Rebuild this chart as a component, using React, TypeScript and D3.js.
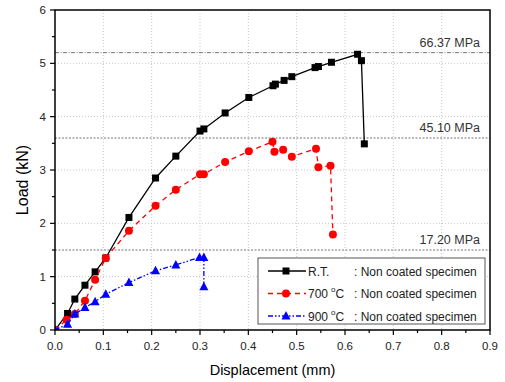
import React from 'react';
import * as d3 from 'd3';

// Load vs displacement for the three test temperatures
const rtX = [0, 0.026, 0.041, 0.062, 0.083, 0.105, 0.153, 0.208, 0.25, 0.3, 0.308, 0.352, 0.401, 0.451, 0.456, 0.474, 0.49, 0.538, 0.545, 0.572, 0.626, 0.634, 0.64];
const rtY = [0, 0.31, 0.58, 0.84, 1.09, 1.35, 2.11, 2.85, 3.26, 3.73, 3.77, 4.07, 4.36, 4.58, 4.61, 4.68, 4.75, 4.92, 4.94, 5.02, 5.17, 5.05, 3.49];

const c700X = [0, 0.024, 0.041, 0.062, 0.083, 0.105, 0.153, 0.208, 0.25, 0.3, 0.308, 0.352, 0.401, 0.45, 0.454, 0.472, 0.49, 0.54, 0.545, 0.57, 0.575];
const c700Y = [0, 0.19, 0.3, 0.55, 0.94, 1.35, 1.86, 2.33, 2.63, 2.92, 2.92, 3.15, 3.35, 3.53, 3.34, 3.38, 3.25, 3.4, 3.05, 3.08, 1.79];

const c900X = [0, 0.026, 0.041, 0.062, 0.083, 0.105, 0.153, 0.208, 0.25, 0.299, 0.308, 0.308];
const c900Y = [0, 0.11, 0.3, 0.42, 0.53, 0.67, 0.89, 1.11, 1.22, 1.36, 1.36, 0.81];

const refLoads = [5.2, 3.6, 1.5];
const refLabels = ['66.37 MPa', '45.10 MPa', '17.20 MPa'];

const xTicks = [0, 0.1, 0.2, 0.3, 0.4, 0.5, 0.6, 0.7, 0.8, 0.9];
const yTicks = [0, 1, 2, 3, 4, 5, 6];

const legendLabels = ['R.T.', '700', '900'];

const FONT = 'Liberation Sans, Arial, sans-serif';

const margin = { top: 10, right: 15, bottom: 52, left: 55 };
const width = 505;
const height = 382;
const plotW = width - margin.left - margin.right;
const plotH = height - margin.top - margin.bottom;

type Series = { xs: number[]; ys: number[]; color: string; dash: string; marker: 'square' | 'circle' | 'triangle' };

const series: Series[] = [
  { xs: rtX, ys: rtY, color: '#000', dash: 'none', marker: 'square' },
  { xs: c700X, ys: c700Y, color: '#ff0000', dash: '5,4', marker: 'circle' },
  { xs: c900X, ys: c900Y, color: '#0000ff', dash: '5,2,1.5,2,1.5,2', marker: 'triangle' },
];

function Marker({ kind, x, y, color }: { kind: string; x: number; y: number; color: string }) {
  if (kind === 'square') return <rect x={x - 3.5} y={y - 3.5} width={7} height={7} fill={color} />;
  if (kind === 'circle') return <circle cx={x} cy={y} r={4} fill={color} />;
  return <path d={`M${x},${y - 5}L${x + 4.5},${y + 3.5}L${x - 4.5},${y + 3.5}Z`} fill={color} />;
}

export default function App() {
  const x = d3.scaleLinear().domain([0, 0.9]).range([0, plotW]);
  const y = d3.scaleLinear().domain([0, 6]).range([plotH, 0]);
  const line = d3.line<[number, number]>().x((d) => x(d[0])).y((d) => y(d[1]));
  const xMinor = d3.range(0, 0.91, 0.05);
  const yMinor = d3.range(0, 6.01, 0.5);

  return (
    <svg width={width} height={height} style={{ position: 'absolute', left: 0, top: 0 }} fontFamily={FONT}>
      <rect width={width} height={height} fill="#fff" />
      <defs>
        <clipPath id="plot">
          <rect x={0} y={0} width={plotW} height={plotH} />
        </clipPath>
      </defs>
      <g transform={`translate(${margin.left},${margin.top})`}>
        {/* grid */}
        {xTicks.slice(1, -1).map((t) => (
          <line key={'gx' + t} x1={x(t)} x2={x(t)} y1={0} y2={plotH} stroke="#c8c8c8" strokeDasharray="1,2" />
        ))}
        {yTicks.slice(1, -1).map((t) => (
          <line key={'gy' + t} x1={0} x2={plotW} y1={y(t)} y2={y(t)} stroke="#c8c8c8" strokeDasharray="1,2" />
        ))}

        {/* reference strength lines */}
        {refLoads.map((v, i) => (
          <g key={'ref' + i}>
            <line x1={0} x2={plotW} y1={y(v)} y2={y(v)} stroke="#777" strokeWidth={1}
              strokeDasharray={i === 0 ? '4,1.5,1,1.5' : '2,1.5'} />
            <text x={plotW - 10} y={y(v) - 6} textAnchor="end" fontSize={12.5} fill="#333">{refLabels[i]}</text>
          </g>
        ))}

        {/* series */}
        <g clipPath="url(#plot)">
          {series.map((s, i) => (
            <g key={'s' + i}>
              <path d={line(s.xs.map((v, j) => [v, s.ys[j]]))!} fill="none" stroke={s.color} strokeWidth={1.3} strokeDasharray={s.dash} />
              {s.xs.map((v, j) => (
                <Marker key={j} kind={s.marker} x={x(v)} y={y(s.ys[j])} color={s.color} />
              ))}
            </g>
          ))}
        </g>

        {/* frame */}
        <rect x={0} y={0} width={plotW} height={plotH} fill="none" stroke="#000" strokeWidth={1.5} />

        {/* x axis ticks */}
        {xMinor.map((t, i) => (
          <line key={'xt' + i} x1={x(t)} x2={x(t)} y1={plotH} y2={plotH + (i % 2 === 0 ? 5 : 3)} stroke="#000" strokeWidth={1.2} />
        ))}
        {xTicks.map((t) => (
          <text key={'xl' + t} x={x(t)} y={plotH + 20} textAnchor="middle" fontSize={11.5} fill="#222">{t.toFixed(1)}</text>
        ))}
        {/* y axis ticks */}
        {yMinor.map((t, i) => (
          <line key={'yt' + i} x1={-(i % 2 === 0 ? 5 : 3)} x2={0} y1={y(t)} y2={y(t)} stroke="#000" strokeWidth={1.2} />
        ))}
        {yTicks.map((t) => (
          <text key={'yl' + t} x={-9} y={y(t) + 4} textAnchor="end" fontSize={11.5} fill="#222">{t}</text>
        ))}

        <text x={plotW / 2} y={plotH + 45} textAnchor="middle" fontSize={14.5} fill="#000">Displacement (mm)</text>
        <text transform={`translate(${-27},${plotH / 2 + 10}) rotate(-90)`} textAnchor="middle" fontSize={16} fill="#000">Load (kN)</text>

        {/* legend */}
        <g transform={`translate(${203},${248})`}>
          <rect x={0} y={0} width={227} height={66} fill="#fff" stroke="#555" strokeWidth={1} />
          {series.map((s, i) => {
            const ly = 13 + i * 22.5;
            return (
              <g key={'lg' + i}>
                <line x1={10} x2={48} y1={ly} y2={ly} stroke={s.color} strokeWidth={1.3} strokeDasharray={s.dash} />
                <Marker kind={s.marker} x={28} y={ly} color={s.color} />
                <text x={50} y={ly + 4.5} fontSize={12} fill="#222">
                  {legendLabels[i]}
                  {i > 0 && <tspan fontSize={8} dy={-6} dx={3}>o</tspan>}
                  {i > 0 && <tspan dy={6}>C</tspan>}
                </text>
                <text x={96} y={ly + 4.5} fontSize={12} fill="#222">: Non coated specimen</text>
              </g>
            );
          })}
        </g>
      </g>
    </svg>
  );
}
